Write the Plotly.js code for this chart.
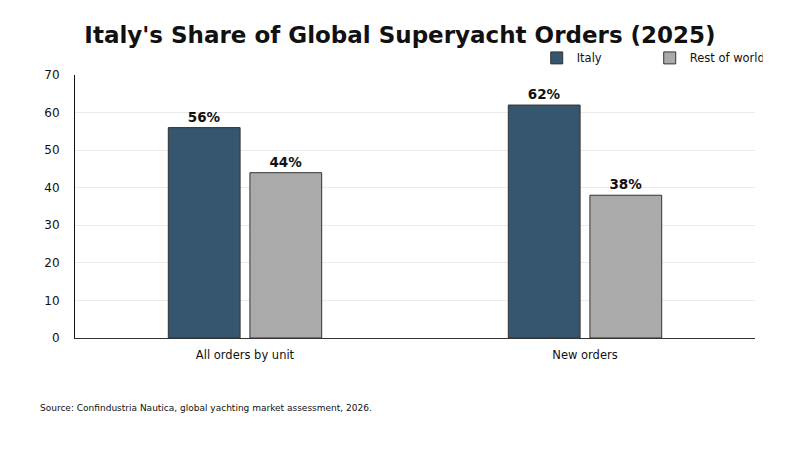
<!DOCTYPE html>
<html>
<head>
<meta charset="utf-8">
<script src="https://cdn.plot.ly/plotly-3.0.1.min.js"></script>
<style>
  html, body { margin: 0; padding: 0; background: #ffffff; }
  #grafico { width: 800px; height: 450px; }
</style>
</head>
<body>
<div id="grafico"></div>
<script>
// dados
const categorias = ['All orders by unit', 'New orders'];
const italia = [56, 62];
const restoMundo = [44, 38];
const nomesSeries = ['Italy', 'Rest of world'];
const fonte = 'Source: Confindustria Nautica, global yachting market assessment, 2026.';

const fontePadrao = 'DejaVu Sans, Verdana, sans-serif';

function criarSerie(nome, valores, cor) {
  return {
    x: categorias,
    y: valores,
    name: nome,
    type: 'bar',
    marker: { color: cor, line: { color: '#333333', width: 1 } },
    texttemplate: '<b>%{y}%</b>',
    textposition: 'outside',
    textfont: { family: fontePadrao, size: 13.5, color: '#111111' },
    cliponaxis: false,
    hoverinfo: 'skip'
  };
}

const traces = [
  criarSerie(nomesSeries[0], italia, '#36566f'),
  criarSerie(nomesSeries[1], restoMundo, '#aaaaaa')
];

const layout = {
  width: 800,
  height: 450,
  title: {
    text: "<b>Italy's Share of Global Superyacht Orders (2025)</b>",
    font: { family: fontePadrao, size: 23, color: '#111111' },
    x: 0.5,
    xanchor: 'center',
    y: 0.922,
    yanchor: 'middle'
  },
  font: { family: fontePadrao, color: '#111111' },
  barmode: 'group',
  bargap: 0.52,
  bargroupgap: 0.12,
  margin: { l: 75, r: 45, t: 75, b: 112, autoexpand: false },
  xaxis: {
    showline: true,
    linecolor: '#333333',
    linewidth: 1,
    ticks: '',
    ticklabelstandoff: 6,
    tickfont: { size: 11.5, color: '#111111' },
    showgrid: false
  },
  yaxis: {
    range: [0, 70],
    dtick: 10,
    showline: true,
    linecolor: '#111111',
    linewidth: 1,
    ticks: '',
    ticklabelstandoff: 12,
    tickfont: { size: 12, color: '#111111' },
    gridcolor: '#ebebeb',
    gridwidth: 1,
    zeroline: false
  },
  showlegend: true,
  legend: {
    orientation: 'h',
    x: 0.679,
    xanchor: 'left',
    y: 1.065,
    yanchor: 'middle',
    entrywidth: 68,
    entrywidthmode: 'pixels',
    font: { size: 11.5, color: '#111111' },
    bgcolor: 'rgba(0,0,0,0)'
  },
  annotations: [{
    text: fonte,
    xref: 'paper',
    yref: 'paper',
    x: -0.054,
    y: -0.266,
    xanchor: 'left',
    yanchor: 'middle',
    showarrow: false,
    font: { size: 9, color: '#111111' }
  }],
  paper_bgcolor: '#ffffff',
  plot_bgcolor: '#ffffff'
};

Plotly.newPlot('grafico', traces, layout, { displayModeBar: false, staticPlot: true });
</script>
</body>
</html>
